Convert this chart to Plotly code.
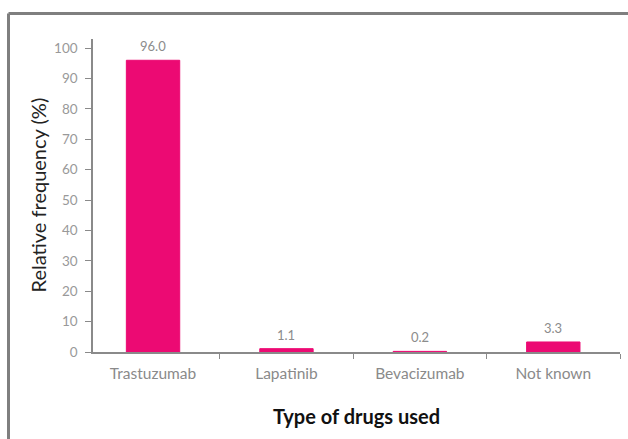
import plotly.graph_objects as go

# Drug categories and their relative frequencies (%)
categories = ["Trastuzumab", "Lapatinib", "Bevacizumab", "Not known"]
frequency = [96.0, 1.1, 0.2, 3.3]
y_ticks = [0, 10, 20, 30, 40, 50, 60, 70, 80, 90, 100]

W, H = 628, 439
ML, MR, MT, MB = 93, 8, 39, 87
plot_w = W - ML - MR
plot_h = H - MT - MB

BAR = "#EC0A73"
AXIS = "#8a8a8a"
TICKTXT = "#999999"
FONT = "Lato, 'Open Sans', sans-serif"

fig = go.Figure(
    go.Bar(
        x=categories,
        y=frequency,
        marker=dict(color=BAR, line=dict(width=1, color=BAR)),
        width=0.4,
        hoverinfo="skip",
    )
)

# value labels above each bar
for cat, val in zip(categories, frequency):
    fig.add_annotation(
        x=cat, y=val, xref="x", yref="y",
        text=f"{val:.1f}", showarrow=False,
        yanchor="middle", yshift=14,
        font=dict(family=FONT, size=13, color="#8c8c8c"),
    )

# axis titles
fig.add_annotation(
    xref="paper", yref="paper",
    x=-(ML - 37) / plot_w, y=0.5,
    text="Relative frequency (%)", textangle=-90, showarrow=False,
    xanchor="center", yanchor="middle",
    font=dict(family=FONT, size=20, color="#222222"),
)
fig.add_annotation(
    xref="paper", yref="paper",
    x=0.5, y=-(416 - (MT + plot_h)) / plot_h,
    text="<b>Type of drugs used</b>", showarrow=False,
    xanchor="center", yanchor="middle",
    font=dict(family=FONT, size=20, color="#111111"),
)

# outer frame (left and top edges visible)
fx0 = (8.5 - ML) / plot_w
fy0 = (MT + plot_h - 13.5) / plot_h
frame = dict(color="#7f7f7f", width=3)
fig.add_shape(type="line", xref="paper", yref="paper",
              x0=fx0, x1=fx0, y0=fy0, y1=-0.5, line=frame)
fig.add_shape(type="line", xref="paper", yref="paper",
              x0=fx0, x1=1.2, y0=fy0, y1=fy0, line=frame)

fig.update_layout(
    width=W, height=H,
    margin=dict(l=ML, r=MR, t=MT, b=MB, pad=0),
    paper_bgcolor="white",
    plot_bgcolor="white",
    showlegend=False,
    font=dict(family=FONT),
    xaxis=dict(
        type="category",
        range=[-0.45, 3.5],
        layer="below traces",
        showline=True, linecolor=AXIS, linewidth=1.5,
        showgrid=False, zeroline=False,
        ticks="outside", tickson="boundaries", ticklen=5,
        tickcolor=AXIS, tickwidth=1,
        ticklabelstandoff=7,
        tickfont=dict(family=FONT, size=15.5, color="#8a8a8a"),
    ),
    yaxis=dict(
        range=[0, 103],
        tickvals=y_ticks,
        layer="below traces",
        showline=True, linecolor=AXIS, linewidth=1.5,
        showgrid=False, zeroline=False,
        ticks="outside", ticklen=6, tickcolor=AXIS, tickwidth=1,
        ticklabelstandoff=5,
        tickfont=dict(family=FONT, size=13.5, color=TICKTXT),
    ),
)

fig.write_html("out.html")
